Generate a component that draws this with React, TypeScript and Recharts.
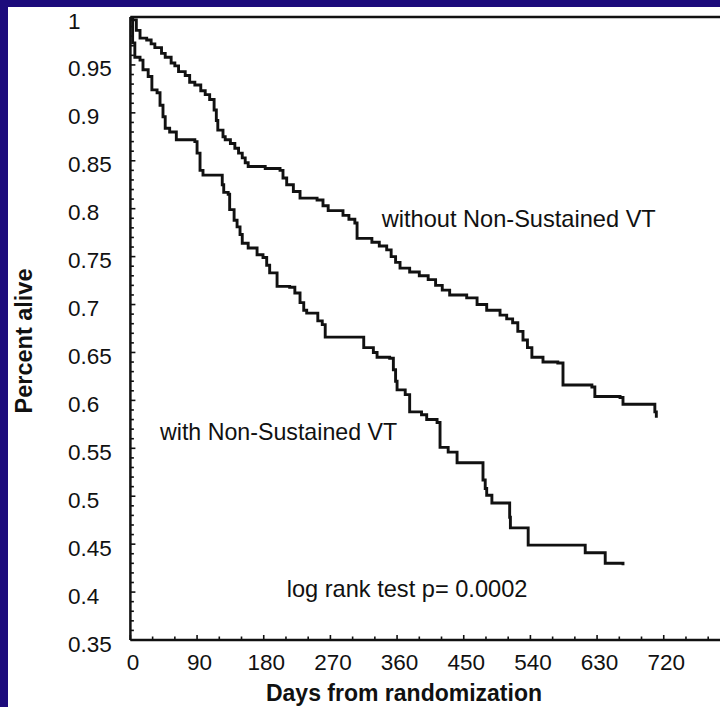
import React from 'react';
import { LineChart, Line, XAxis, YAxis, ReferenceLine } from 'recharts';

// Kaplan-Meier curve: patients without non-sustained VT
const withoutDays = [0, 2, 8, 13, 22, 28, 33, 42, 47, 55, 60, 65, 74, 80, 87, 95, 101, 107, 113, 116, 118, 125, 128, 135, 141, 146, 151, 155, 159, 182, 202, 206, 211, 220, 229, 252, 260, 267, 287, 295, 303, 306, 326, 336, 346, 352, 358, 364, 377, 390, 402, 412, 421, 431, 454, 468, 481, 499, 508, 516, 523, 530, 536, 542, 557, 577, 584, 623, 627, 661, 665, 705, 708, 710];
const withoutSurv = [1.0, 0.997, 0.986, 0.978, 0.976, 0.972, 0.968, 0.962, 0.958, 0.952, 0.949, 0.943, 0.939, 0.932, 0.929, 0.923, 0.919, 0.914, 0.903, 0.892, 0.882, 0.875, 0.872, 0.868, 0.863, 0.858, 0.853, 0.848, 0.844, 0.842, 0.84, 0.832, 0.825, 0.818, 0.811, 0.809, 0.803, 0.798, 0.793, 0.789, 0.785, 0.769, 0.765, 0.761, 0.757, 0.75, 0.744, 0.738, 0.734, 0.73, 0.726, 0.72, 0.715, 0.71, 0.707, 0.7, 0.694, 0.689, 0.685, 0.681, 0.672, 0.663, 0.655, 0.645, 0.64, 0.639, 0.616, 0.614, 0.604, 0.603, 0.596, 0.596, 0.588, 0.582];

// Kaplan-Meier curve: patients with non-sustained VT
const withDays = [0, 3, 6, 13, 17, 24, 29, 36, 40, 44, 47, 53, 62, 87, 90, 94, 98, 124, 126, 132, 134, 140, 144, 148, 151, 159, 171, 179, 184, 188, 198, 215, 222, 229, 234, 238, 253, 259, 263, 315, 328, 333, 350, 355, 358, 360, 371, 377, 393, 400, 414, 418, 429, 441, 476, 479, 481, 488, 512, 513, 537, 614, 641, 665];
const withSurv = [1.0, 0.973, 0.958, 0.955, 0.945, 0.938, 0.924, 0.921, 0.908, 0.896, 0.884, 0.88, 0.872, 0.87, 0.858, 0.84, 0.835, 0.825, 0.817, 0.815, 0.799, 0.788, 0.781, 0.773, 0.764, 0.759, 0.752, 0.749, 0.741, 0.733, 0.719, 0.718, 0.712, 0.702, 0.694, 0.691, 0.683, 0.679, 0.666, 0.655, 0.65, 0.645, 0.644, 0.632, 0.62, 0.611, 0.606, 0.588, 0.585, 0.58, 0.577, 0.551, 0.546, 0.535, 0.517, 0.508, 0.501, 0.493, 0.478, 0.467, 0.449, 0.441, 0.43, 0.428];

const xLabelTicks = [0, 90, 180, 270, 360, 450, 540, 630, 720];
const yLabelTicks = [0.35, 0.4, 0.45, 0.5, 0.55, 0.6, 0.65, 0.7, 0.75, 0.8, 0.85, 0.9, 0.95, 1];
const xMinorStep = 30;
const yMinorStep = 0.01;
const xDomain = [0, 800];
const yDomain = [0.35, 1];

const xAllTicks: number[] = [];
for (let v = xDomain[0]; v < xDomain[1]; v += xMinorStep) xAllTicks.push(v);
const yAllTicks: number[] = [];
for (let i = 0; i <= Math.round((yDomain[1] - yDomain[0]) / yMinorStep); i++) {
  yAllTicks.push(Math.round((yDomain[0] + i * yMinorStep) * 1000) / 1000);
}

const withoutData = withoutDays.map((d, i) => ({ day: d, surv: withoutSurv[i] }));
const withData = withDays.map((d, i) => ({ day: d, surv: withSurv[i] }));

const FONT = '"Liberation Sans", Arial, Helvetica, sans-serif';
const INK = '#111';

const isYLabel = (v: number) => yLabelTicks.some((t) => Math.abs(t - v) < 1e-6);
const isXLabel = (v: number) => xLabelTicks.includes(v);

const YTick = (props: any) => {
  const { x, y, payload } = props;
  const major = isYLabel(payload.value);
  return (
    <g>
      <line x1={x} y1={y} x2={x + (major ? 5 : 3.5)} y2={y} stroke={INK} strokeWidth={1.6} />
      {major && (
        <text x={x - 62.4} y={y + 11.5} textAnchor="start" fontSize={22.5} fontFamily={FONT} fill={INK}>
          {String(payload.value)}
        </text>
      )}
    </g>
  );
};

const XTick = (props: any) => {
  const { x, y, payload } = props;
  const major = isXLabel(payload.value);
  return (
    <g>
      <line x1={x} y1={y} x2={x} y2={y - (major ? 5 : 3.5)} stroke={INK} strokeWidth={1.6} />
      {major && (
        <text x={x + 2.5} y={y + 30} textAnchor="middle" fontSize={22.5} fontFamily={FONT} fill={INK}>
          {String(payload.value)}
        </text>
      )}
    </g>
  );
};

export default function App() {
  return (
    <div style={{ position: 'fixed', left: 0, top: 0, width: 720, height: 707, background: '#1d0b7c' }}>
      <div style={{ position: 'absolute', left: 8, top: 7, width: 712, height: 700, background: '#ffffff', overflow: 'hidden' }}>
        <LineChart width={715} height={700} margin={{ top: 10, right: 0, bottom: 0, left: 0 }}>
          <XAxis
            type="number"
            dataKey="day"
            domain={xDomain}
            ticks={xAllTicks}
            interval={0}
            allowDataOverflow
            height={67}
            tickLine={false}
            tickSize={0}
            tickMargin={0}
            axisLine={{ stroke: INK, strokeWidth: 2.5 }}
            tick={<XTick />}
          />
          <YAxis
            type="number"
            domain={yDomain}
            ticks={yAllTicks}
            interval={0}
            allowDataOverflow
            width={122.4}
            tickLine={false}
            tickSize={0}
            tickMargin={0}
            axisLine={{ stroke: INK, strokeWidth: 2.5 }}
            tick={<YTick />}
          />
          <ReferenceLine y={1} stroke={INK} strokeWidth={2.5} />
          <Line data={withoutData} dataKey="surv" type="stepAfter" stroke={INK} strokeWidth={2.9} dot={false} isAnimationActive={false} />
          <Line data={withData} dataKey="surv" type="stepAfter" stroke={INK} strokeWidth={2.9} dot={false} isAnimationActive={false} />
        </LineChart>
        <svg width={712} height={700} style={{ position: 'absolute', left: 0, top: 0, pointerEvents: 'none' }}>
          <text x={373.7} y={220} fontSize={23.6} fontFamily={FONT} fill={INK}>without Non-Sustained VT</text>
          <text x={152} y={433} fontSize={23.2} fontFamily={FONT} fill={INK}>with Non-Sustained VT</text>
          <text x={278.7} y={589.7} fontSize={23.6} fontFamily={FONT} fill={INK}>log rank test p= 0.0002</text>
          <text x={396} y={694} textAnchor="middle" fontSize={23} fontWeight="bold" fontFamily={FONT} fill={INK}>Days from randomization</text>
          <text x={23.5} y={334} textAnchor="middle" fontSize={23.5} fontWeight="bold" fontFamily={FONT} fill={INK} transform="rotate(-90 23.5 334)">Percent alive</text>
        </svg>
      </div>
    </div>
  );
}
